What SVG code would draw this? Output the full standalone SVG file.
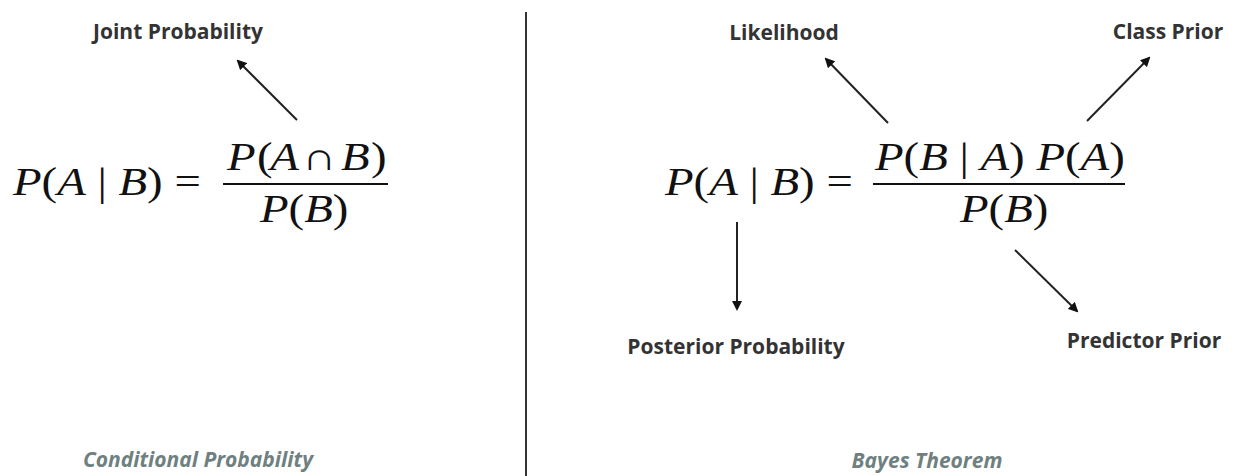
<svg xmlns="http://www.w3.org/2000/svg" width="1241" height="476" viewBox="0 0 1241 476">
<style>
.lbl{font-family:"Open Sans",Lato,sans-serif;font-weight:bold;font-size:21px;fill:#333;}
.foot{font-family:"Open Sans",Lato,sans-serif;font-weight:bold;font-style:italic;font-size:21px;fill:#6f8080;}
.m{font-family:"Liberation Serif","DejaVu Serif",serif;font-size:39px;fill:#111;}
.i{font-style:italic;}
.bar{stroke:#111;stroke-width:2;}
.arr{stroke:#222;stroke-width:2;fill:none;marker-end:url(#ah);}
</style>
<defs>
<marker id="ah" markerWidth="10" markerHeight="10" refX="8" refY="5" orient="auto" markerUnits="userSpaceOnUse" viewBox="0 0 10 10">
<path d="M0,0 L10,5 L0,10 Z" fill="#111"/>
</marker>
</defs>
<rect width="1241" height="476" fill="#fff"/>
<line x1="526" y1="12" x2="526" y2="476" stroke="#333" stroke-width="2"/>

<g id="cond-formula">
<text class="m" transform="translate(13,195) scale(1.2,1)"><tspan class="i">P</tspan>(<tspan class="i">A</tspan> | <tspan class="i">B</tspan>) =</text>
<text class="m" transform="translate(227,170) scale(1.2,1)"><tspan class="i" x="0">P</tspan><tspan x="25">(</tspan><tspan class="i" x="36">A</tspan><tspan x="63">∩</tspan><tspan class="i" x="95">B</tspan><tspan x="120">)</tspan></text>
<line class="bar" x1="223" y1="184" x2="388" y2="184"/>
<text class="m" transform="translate(260,222) scale(1.2,1)"><tspan class="i">P</tspan>(<tspan class="i">B</tspan>)</text>
</g>
<g id="joint"><text class="lbl" x="178" y="39" text-anchor="middle">Joint Probability</text></g>
<g id="cond-title"><text class="foot" x="198" y="467" text-anchor="middle">Conditional Probability</text></g>

<g id="bayes-formula">
<text class="m" transform="translate(665,195) scale(1.2,1)"><tspan class="i">P</tspan>(<tspan class="i">A</tspan> | <tspan class="i">B</tspan>) =</text>
<text class="m" transform="translate(875,170) scale(1.2,1)"><tspan class="i">P</tspan>(<tspan class="i">B</tspan> | <tspan class="i">A</tspan>) <tspan class="i">P</tspan>(<tspan class="i">A</tspan>)</text>
<line class="bar" x1="873" y1="184" x2="1125" y2="184"/>
<text class="m" transform="translate(960,222) scale(1.2,1)"><tspan class="i">P</tspan>(<tspan class="i">B</tspan>)</text>
</g>
<g id="likelihood"><text class="lbl" x="784" y="40" text-anchor="middle">Likelihood</text></g>
<g id="class-prior"><text class="lbl" x="1168" y="39" text-anchor="middle">Class Prior</text></g>
<g id="posterior"><text class="lbl" x="736" y="354" text-anchor="middle">Posterior Probability</text></g>
<g id="predictor"><text class="lbl" x="1144" y="348" text-anchor="middle">Predictor Prior</text></g>
<g id="bayes-title"><text class="foot" x="927" y="468" text-anchor="middle">Bayes Theorem</text></g>

<g id="connectors">
<line class="arr" x1="297" y1="120" x2="238" y2="61"/>
<line class="arr" x1="888" y1="123" x2="826" y2="59"/>
<line class="arr" x1="1087" y1="121" x2="1149" y2="58"/>
<line class="arr" x1="737" y1="222" x2="737" y2="309"/>
<line class="arr" x1="1015" y1="250" x2="1077" y2="311"/>
</g>
</svg>
